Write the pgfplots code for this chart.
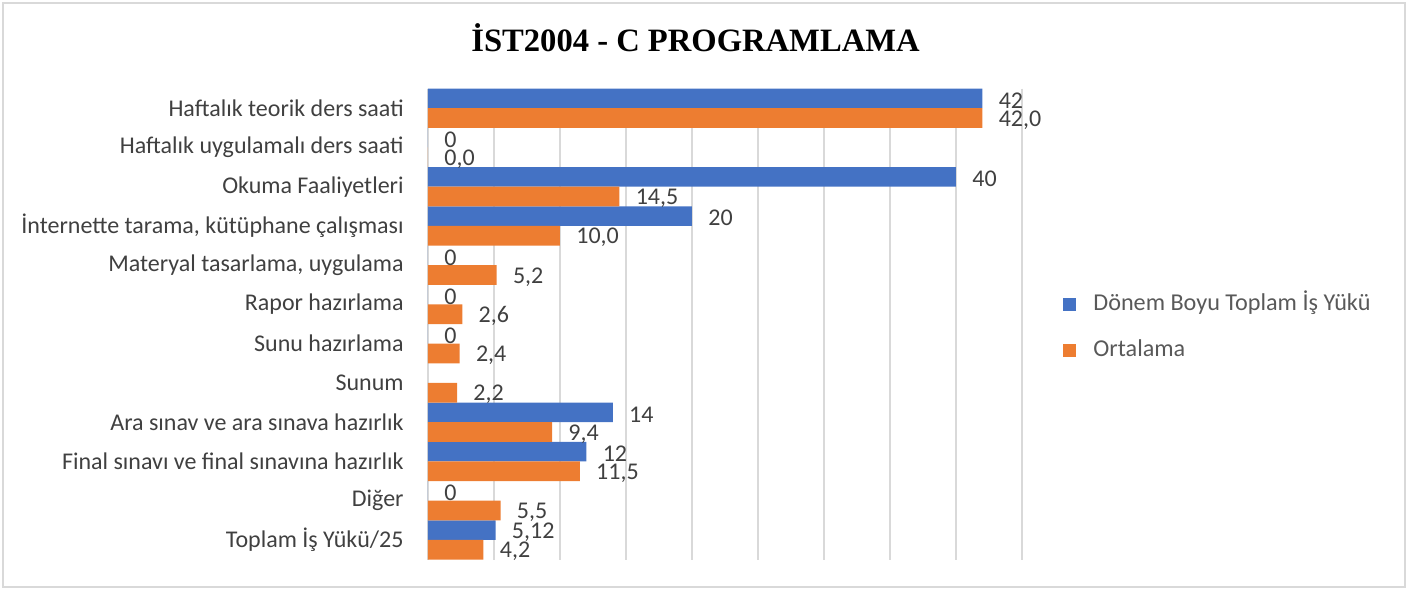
\documentclass[border=0pt]{standalone}
\usepackage{fontspec}
\setmainfont{Carlito}
\newfontfamily\titlefont{Liberation Serif}
\usepackage{pgfplots}
\pgfplotsset{compat=1.18}
\usepackage{pgfplotstable}
\definecolor{cblue}{HTML}{4472C4}
\definecolor{corange}{HTML}{ED7D31}
\definecolor{gridgray}{HTML}{D9D9D9}
\definecolor{labelgray}{HTML}{404040}
\definecolor{legendgray}{HTML}{595959}

\pgfplotstableread{
val idx lab
42   0  42
0    1  0
40   2  40
20   3  20
0    4  0
0    5  0
0    6  0
14   8  14
12   9  12
0    10 0
5.12 11 5,12
}\blueseries
\pgfplotstableread{
val idx lab
42.0 0  42,0
0.0  1  0,0
14.5 2  14,5
10.0 3  10,0
5.2  4  5,2
2.6  5  2,6
2.4  6  2,4
2.2  7  2,2
9.4  8  9,4
11.5 9  11,5
5.5  10 5,5
4.2  11 4,2
}\orangeseries

\begin{document}
\begin{tikzpicture}
\useasboundingbox (0,0) rectangle (704pt,295pt);
\draw[color=gridgray, line width=1pt] (1.5pt,1.5pt) rectangle (702.5pt,293.5pt);
\node[font=\titlefont\bfseries\fontsize{16.3}{19}\selectfont, text=black] at (347.75pt,276pt) {İST2004 - C PROGRAMLAMA};
\begin{axis}[
  at={(214pt,15.25pt)}, anchor=south west,
  scale only axis, width=297pt, height=235.5pt,
  xmin=0, xmax=45, ymin=-0.5, ymax=11.5,
  y dir=reverse,
  xtick={0,5,...,45}, xticklabels={},
  xmajorgrids, grid style={gridgray, line width=1pt},
  axis line style={draw=none},
  major tick length=0pt,
  ytick={0,...,11},
  yticklabels={
    Haftalık teorik ders saati,
    Haftalık uygulamalı ders saati,
    Okuma Faaliyetleri,
    {İnternette tarama, kütüphane çalışması},
    {Materyal tasarlama, uygulama},
    Rapor hazırlama,
    Sunu hazırlama,
    Sunum,
    Ara sınav ve ara sınava hazırlık,
    Final sınavı ve final sınavına hazırlık,
    Diğer,
    Toplam İş Yükü/25},
  yticklabel style={font=\fontsize{12}{14}\selectfont, text=labelgray, anchor=east, inner sep=0pt, xshift=-12pt},
  xbar, bar width=0.5,
  nodes near coords,
  point meta=explicit symbolic,
  every node near coord/.append style={font=\fontsize{12}{14}\selectfont, text=labelgray, anchor=west, inner sep=0pt, xshift=8pt, yshift=-1pt},
  legend cell align=left,
  legend style={at={(1.069,0.492)}, anchor=west, draw=none, fill=none, inner sep=0pt,
    font=\fontsize{12.1}{14}\selectfont, text=legendgray, row sep=13pt,
    nodes={inner sep=0pt, text height=8pt, text depth=2pt},
    /tikz/every even column/.append style={column sep=0pt}},
]
\addplot[fill=cblue, draw=none, bar shift=-0.25,
  legend image code/.code={\fill[cblue] (0pt,-3.25pt) rectangle (6.5pt,3.25pt); \path (15pt,0pt);}]
  table[x=val, y=idx, meta=lab] {\blueseries};
\addlegendentry{Dönem Boyu Toplam İş Yükü}
\addplot[fill=corange, draw=none, bar shift=0.25,
  legend image code/.code={\fill[corange] (0pt,-3.25pt) rectangle (6.5pt,3.25pt); \path (15pt,0pt);}]
  table[x=val, y=idx, meta=lab] {\orangeseries};
\addlegendentry{Ortalama}
\end{axis}
\end{tikzpicture}
\end{document}
